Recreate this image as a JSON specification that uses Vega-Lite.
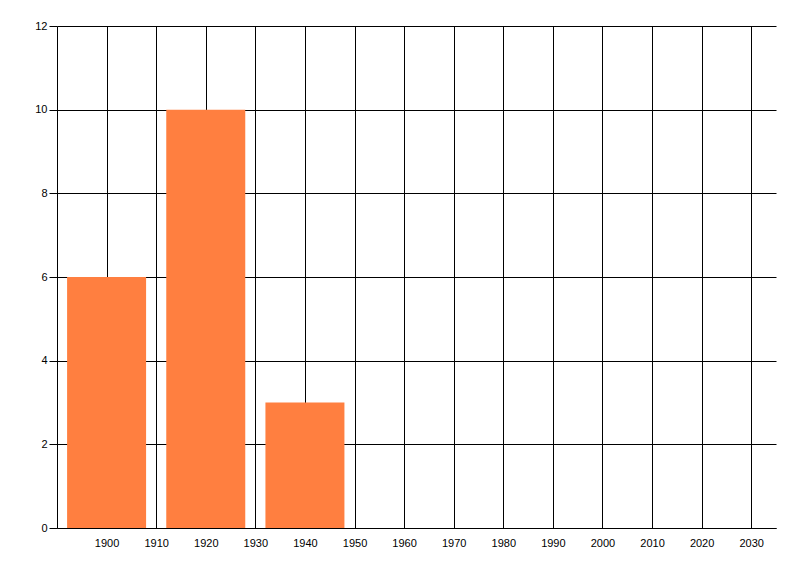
{
  "$schema": "https://vega.github.io/schema/vega-lite/v6.json",
  "autosize": {"type": "none"},
  "padding": {"left": 57, "top": 26, "right": 24, "bottom": 48},
  "width": 719,
  "height": 502,
  "background": "white",
  "config": {
    "view": {"stroke": null},
    "axis": {
      "labelFont": "Liberation Sans",
      "labelFontSize": 11,
      "labelColor": "black",
      "domainColor": "black",
      "domainWidth": 1,
      "gridColor": "black",
      "gridWidth": 1,
      "gridOpacity": 1,
      "tickColor": "black",
      "title": null
    }
  },
  "data": {
    "values": [
      {"year": 1900, "value": 6},
      {"year": 1920, "value": 10},
      {"year": 1940, "value": 3}
    ]
  },
  "mark": {"type": "bar", "size": 79, "color": "#FF7F40"},
  "encoding": {
    "x": {
      "field": "year",
      "type": "quantitative",
      "scale": {"domain": [1890, 2035], "nice": false, "zero": false, "padding": 0},
      "axis": {
        "values": [1900, 1910, 1920, 1930, 1940, 1950, 1960, 1970, 1980, 1990, 2000, 2010, 2020, 2030],
        "format": "d",
        "ticks": false,
        "labelPadding": 9,
        "grid": true,
        "labelFlush": false
      }
    },
    "y": {
      "field": "value",
      "type": "quantitative",
      "scale": {"domain": [0, 12], "nice": false, "padding": 0},
      "axis": {
        "values": [0, 2, 4, 6, 8, 10, 12],
        "tickSize": 8,
        "labelPadding": 2,
        "grid": true,
        "labelFlush": false
      }
    }
  }
}
